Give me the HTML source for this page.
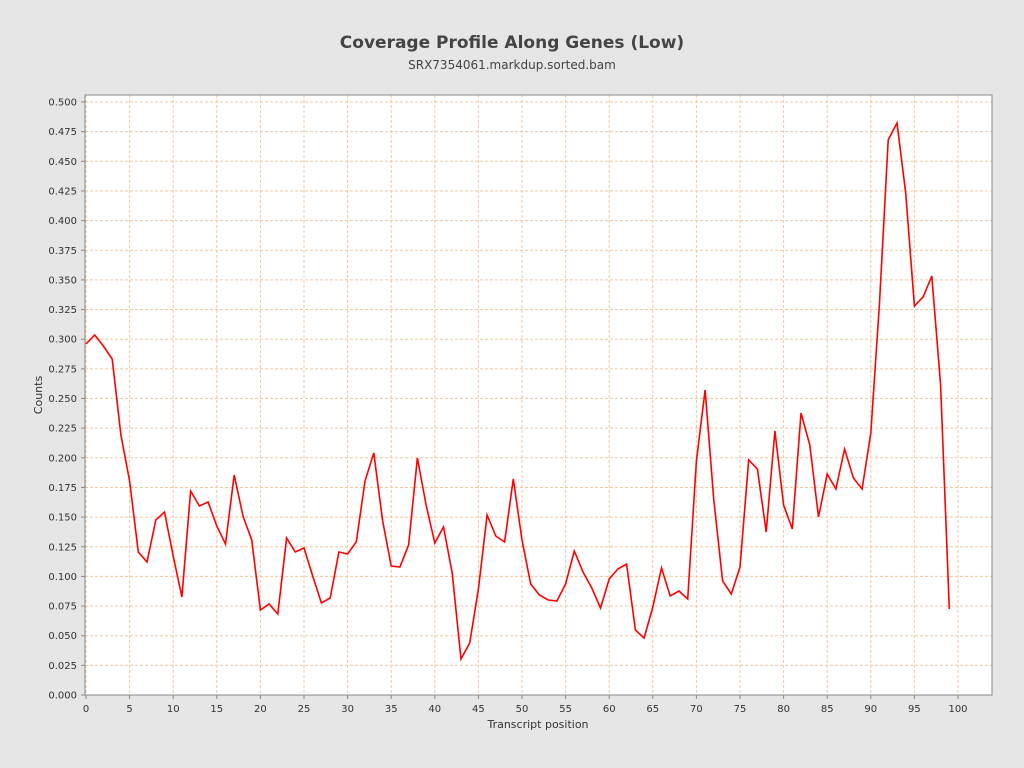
<!DOCTYPE html>
<html><head><style>
html,body{margin:0;padding:0;overflow:hidden;background:#e6e6e6;font-family:"Liberation Sans","DejaVu Sans",sans-serif;}
svg{display:block;}
</style></head><body>
<svg width="1024" height="768" xmlns="http://www.w3.org/2000/svg" font-family="DejaVu Sans, Liberation Sans, sans-serif">
<rect width="1024" height="768" fill="#e6e6e6"/>
<text x="512" y="48" text-anchor="middle" font-size="17" font-weight="bold" fill="#444">Coverage Profile Along Genes (Low)</text>
<text x="512" y="69" text-anchor="middle" font-size="12" fill="#444">SRX7354061.markdup.sorted.bam</text>
<rect x="85" y="95" width="907" height="600" fill="#fff"/>
<g id="grid" stroke="#f0c8a0" stroke-width="1" stroke-dasharray="3,2"></g>
<g id="ticks" font-size="10" fill="#333"></g>
<rect x="85" y="95" width="907" height="600" fill="none" stroke="#888"/>
<polyline id="line" fill="none" stroke="#ff0000" stroke-width="1.6"/>
<text x="538" y="728" text-anchor="middle" font-size="11" fill="#333">Transcript position</text>
<text transform="translate(42,395) rotate(-90)" text-anchor="middle" font-size="11" fill="#333">Counts</text>
</svg>
<script>
const ns="http://www.w3.org/2000/svg";
const g=document.getElementById('grid'),t=document.getElementById('ticks');
function X(i){return 86+8.72*i;}
function Y(v){return 695-v*1186;}
function el(n,a,p,txt){const e=document.createElementNS(ns,n);for(const k in a)e.setAttribute(k,a[k]);if(txt!==undefined)e.textContent=txt;p.appendChild(e);return e;}
for(let i=0;i<=100;i+=5){const x=X(i);el('line',{x1:x,x2:x,y1:95,y2:695},g);el('line',{x1:x,x2:x,y1:695,y2:699,stroke:'#888','stroke-dasharray':'none'},g);el('text',{x:x,y:712,'text-anchor':'middle'},t,i);}
for(let k=0;k<=20;k++){const v=k*0.025,y=Y(v);el('line',{x1:85,x2:992,y1:y,y2:y},g);el('line',{x1:81,x2:85,y1:y,y2:y,stroke:'#888','stroke-dasharray':'none'},g);el('text',{x:77,y:y+3.5,'text-anchor':'end'},t,v.toFixed(3));}
const ys=[344,335,346,359,435,481,552,562,520,512,556,597,491,506,502,526,544,475,516,540,610,604,614,538,552,548,576,603,598,552,554,542,481,453,520,566,567,545,458,505,543,527,573,659,643,589,515,536,542,479,540,584,595,600,601,584,551,572,588,608,579,569,564,630,638,607,568,596,591,599,461,390,500,581,594,567,460,469,532,431,505,529,413,445,517,474,489,449,478,489,433,303,140,123,193,306,297,276,385,609];
document.getElementById('line').setAttribute('points',ys.map((y,i)=>X(i).toFixed(1)+','+y).join(' '));
</script>
</body></html>
